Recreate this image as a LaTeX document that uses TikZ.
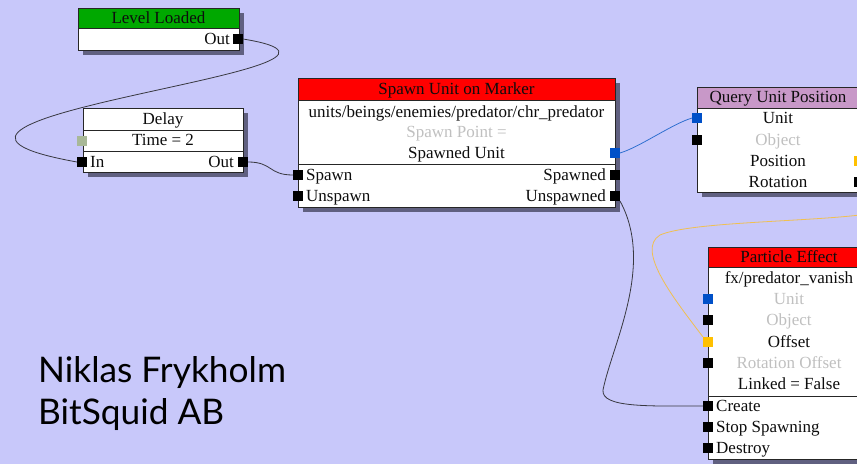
\documentclass[tikz,border=0pt]{standalone}
\usepackage{fontspec}
\setmainfont{Liberation Serif}
\newfontfamily\authorfont{Lato}
\definecolor{canvas}{RGB}{200,200,250}
\definecolor{shadowc}{RGB}{96,96,128}
\definecolor{evgreen}{RGB}{0,168,0}
\definecolor{evred}{RGB}{255,0,0}
\definecolor{evpurple}{RGB}{200,152,200}
\definecolor{dimtext}{RGB}{192,192,192}
\definecolor{unitblue}{RGB}{0,80,200}
\definecolor{vecorange}{RGB}{255,192,0}
\definecolor{wireorange}{RGB}{240,192,80}
\definecolor{wireblue}{RGB}{48,112,208}
\definecolor{idlegreen}{RGB}{168,184,152}
\definecolor{wire}{RGB}{56,56,64}

% one flow node: shadow, white body, coloured title bar and frame
\newcommand\flowbox[6]{%
  \fill[shadowc] (#1+5,#2+5) rectangle (#3+5,#4+5);
  \fill[white] (#1,#2) rectangle (#3,#4);
  \fill[#6] (#1,#2) rectangle (#3,#5);
  \draw[boxline] (#1,#2) rectangle (#3,#4);
  \draw[boxline] (#1,#5) -- (#3,#5);
}

\begin{document}
\begin{tikzpicture}[x=1pt,y=-1pt,
  boxline/.style={draw=black!85, line width=0.9pt},
  txt/.style={font=\fontsize{17}{19}\selectfont, inner sep=0, anchor=base, text=black!95, yshift=-5pt},
  dim/.style={txt, text=dimtext},
  port/.style={draw=none, fill=black, minimum size=10, inner sep=0, outer sep=0},
  conn/.style={draw=wire, line width=0.8pt},
  author/.style={font=\authorfont\fontsize{35.3}{40}\selectfont, inner sep=0, anchor=base west}]
\useasboundingbox (0,0) rectangle (857,464);
\clip (0,0) rectangle (857,464);
\fill[canvas] (0,0) rectangle (857,464);

% ---- Level Loaded
\flowbox{78}{8}{239}{50}{28}{evgreen}
\node[txt] (ll-title) at (158.5,18) {Level Loaded};
\node[txt, anchor=base east] (ll-outl) at (230,39) {Out};
\node[port] (ll-out) at (238,39) {};

% ---- Delay
\flowbox{83}{108}{243}{172}{130}{white}
\draw[boxline] (83,151) -- (243,151);
\node[txt] (dl-title) at (163,119) {Delay};
\node[txt] (dl-time) at (163,140) {Time = 2};
\node[txt, anchor=base west] (dl-inl) at (90,162) {In};
\node[txt, anchor=base east] (dl-outl) at (234,162) {Out};
\node[port, fill=idlegreen] (dl-timeport) at (82,141) {};
\node[port] (dl-in) at (82,162) {};
\node[port] (dl-out) at (243,162) {};

% ---- Spawn Unit on Marker
\flowbox{298}{78}{615}{207}{100}{evred}
\draw[boxline] (298,164) -- (615,164);
\node[txt] (su-title) at (456.5,89) {Spawn Unit on Marker};
\node[txt] (su-res) at (456.5,112) {units/beings/enemies/predator/chr\_predator};
\node[dim] (su-point) at (456.5,132) {Spawn Point =};
\node[txt] (su-unitl) at (456.5,153) {Spawned Unit};
\node[txt, anchor=base west] (su-spawnl) at (306,175) {Spawn};
\node[txt, anchor=base west] (su-unspawnl) at (306,196) {Unspawn};
\node[txt, anchor=base east] (su-spawnedl) at (606,175) {Spawned};
\node[txt, anchor=base east] (su-unspawnedl) at (606,196) {Unspawned};
\node[port, fill=unitblue] (su-unit) at (615,153) {};
\node[port] (su-spawn) at (298,175) {};
\node[port] (su-unspawn) at (298,196) {};
\node[port] (su-spawned) at (615,175) {};
\node[port] (su-unspawned) at (615,196) {};

% ---- Query Unit Position
\flowbox{697}{87}{859}{192}{108}{evpurple}
\node[txt] (qp-title) at (778,97) {Query Unit Position};
\node[txt] (qp-unitl) at (778,118) {Unit};
\node[dim] (qp-objectl) at (778,140) {Object};
\node[txt] (qp-posl) at (778,161) {Position};
\node[txt] (qp-rotl) at (778,182) {Rotation};
\node[port, fill=unitblue] (qp-unit) at (697,118) {};
\node[port] (qp-object) at (697,140) {};
\node[port, fill=vecorange] (qp-pos) at (859,161) {};
\node[port] (qp-rot) at (859,182) {};

% ---- Particle Effect
\flowbox{708}{247}{870}{459}{267}{evred}
\draw[boxline] (708,396) -- (870,396);
\node[txt] (pe-title) at (789,257) {Particle Effect};
\node[txt] (pe-fx) at (789,278) {fx/predator\_vanish};
\node[dim] (pe-unitl) at (789,299) {Unit};
\node[dim] (pe-objectl) at (789,320) {Object};
\node[txt] (pe-offsetl) at (789,342) {Offset};
\node[dim] (pe-rotl) at (789,363) {Rotation Offset};
\node[txt] (pe-linked) at (789,384) {Linked = False};
\node[txt, anchor=base west] (pe-createl) at (716,406) {Create};
\node[txt, anchor=base west] (pe-stopl) at (716,427) {Stop Spawning};
\node[txt, anchor=base west] (pe-destroyl) at (716,448) {Destroy};
\node[port, fill=unitblue] (pe-unit) at (708,299) {};
\node[port] (pe-object) at (708,320) {};
\node[port, fill=vecorange] (pe-offset) at (708,342) {};
\node[port] (pe-rot) at (708,363) {};
\node[port] (pe-create) at (708,406) {};
\node[port] (pe-stop) at (708,427) {};
\node[port] (pe-destroy) at (708,448) {};

% ---- wires
\draw[conn] (ll-out.east) .. controls +(185,30) and +(-250,-45) .. (dl-in.west);
\draw[conn] (dl-out.east) .. controls +(25,0) and +(-25,0) .. (su-spawn.west);
\draw[draw=wireblue, line width=0.8pt] (su-unit.east) .. controls +(20,-6) and +(-20,6) .. (qp-unit.west);
\draw[conn] (su-unspawned.south east) .. controls (655,265) and (612,345) .. (603,390)
  .. controls (601,408) and (650,406) .. (pe-create.west);
\draw[draw=wireorange, line width=0.8pt] (pe-offset.north west) .. controls (675,300) and (635,250) .. (660,235)
  .. controls (690,222) and (800,222) .. (860,215)
  .. controls (920,205) and (920,161) .. (qp-pos.east);

% ---- credit
\node[author] (credit1) at (38,382) {Niklas Frykholm};
\node[author] (credit2) at (38,424) {BitSquid AB};
\end{tikzpicture}
\end{document}
